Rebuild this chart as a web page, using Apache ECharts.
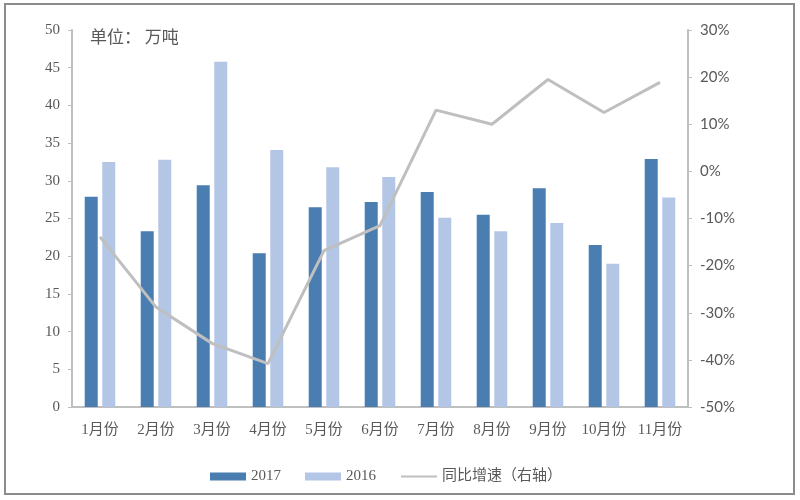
<!DOCTYPE html>
<html><head><meta charset="utf-8">
<script src="https://cdn.jsdelivr.net/npm/echarts@6/dist/echarts.min.js"></script>
<style>html,body{margin:0;padding:0;background:#fff}#c{width:800px;height:500px}</style>
</head><body><div id="c"></div>
<script>
const categories = ['1月份','2月份','3月份','4月份','5月份','6月份','7月份','8月份','9月份','10月份','11月份'];
const v2017 = [27.9, 23.3, 29.4, 20.4, 26.5, 27.2, 28.5, 25.5, 29.0, 21.5, 32.9];
const v2016 = [32.5, 32.8, 45.8, 34.1, 31.8, 30.5, 25.1, 23.3, 24.4, 19.0, 27.8];
const growth = [-13.9, -28.8, -36.5, -40.8, -16.8, -11.5, 13.0, 10.0, 19.5, 12.5, 18.9];

const chart = echarts.init(document.getElementById('c'));
const axisColor = '#bfbfbf';
const textColor = '#595959';
chart.setOption({
  animation: false,
  graphic: [
    {type:'rect', shape:{x:5,y:4,width:789,height:490}, style:{fill:'none', stroke:'#8c8c8c', lineWidth:2}},
    {type:'text', left:90, top:28, style:{text:'单位： 万吨', fill:textColor, font:'17px "Noto Sans CJK SC"'}}
  ],
  grid: {left:72, right:112, top:30, bottom:93},
  legend: {
    left: 205, top: 464, itemGap: 24, itemWidth: 36, itemHeight: 8,
    textStyle: {color: textColor, fontFamily: '"Liberation Serif","Noto Sans CJK SC"', fontSize: 15},
    data: [{name:'2017', icon:'rect'}, {name:'2016', icon:'rect'},
           {name:'同比增速（右轴）', itemStyle:{opacity:0}}]
  },
  xAxis: {
    type: 'category', data: categories,
    axisLine: {lineStyle:{color:axisColor, width:2}},
    axisTick: {show:false},
    axisLabel: {color:textColor, fontFamily:'"Liberation Serif","Noto Sans CJK SC"', fontSize:15, margin:16, interval:0}
  },
  yAxis: [
    {type:'value', min:0, max:50, interval:5,
     axisLine:{show:true, lineStyle:{color:axisColor, width:2}},
     axisTick:{show:true, length:4, lineStyle:{color:axisColor}},
     splitLine:{show:false},
     axisLabel:{color:textColor, fontFamily:'"Liberation Serif"', fontSize:15, margin:12}},
    {type:'value', min:-50, max:30, interval:10, position:'right',
     axisLine:{show:true, lineStyle:{color:axisColor, width:2}},
     axisTick:{show:true, length:4, lineStyle:{color:axisColor}},
     splitLine:{show:false},
     axisLabel:{color:textColor, fontFamily:'Lato', fontSize:15, margin:12, formatter:'{value}%'}}
  ],
  series: [
    {name:'2017', type:'bar', data:v2017, barWidth:13, barGap:'35%', itemStyle:{color:'#4a7db0'}},
    {name:'2016', type:'bar', data:v2016, barWidth:13, itemStyle:{color:'#b3c6e6'}},
    {name:'同比增速（右轴）', type:'line', yAxisIndex:1, data:growth, symbol:'none',
     lineStyle:{color:'#bfbfbf', width:3}, itemStyle:{color:'#bfbfbf'}}
  ]
});
</script></body></html>
